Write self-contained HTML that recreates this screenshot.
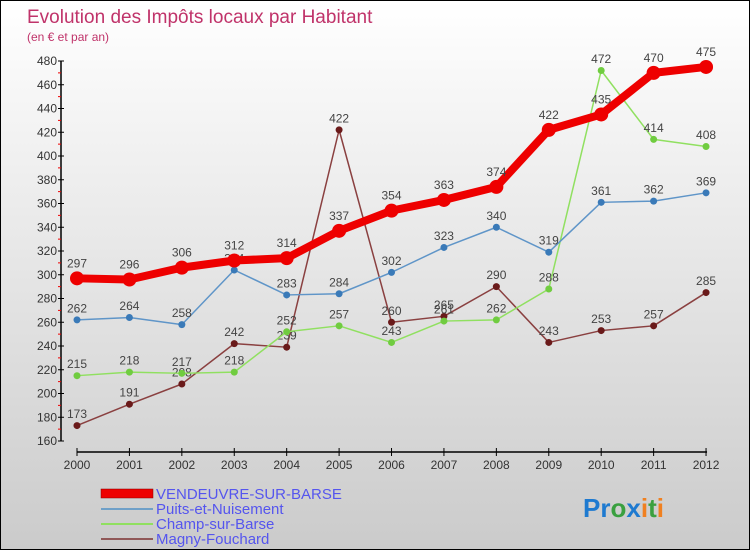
<!DOCTYPE html>
<html><head><meta charset="utf-8"><style>
html,body{margin:0;padding:0}
body{width:750px;height:550px;overflow:hidden;font-family:"Liberation Sans",sans-serif}
#wrap{position:relative;width:748px;height:548px;border:1px solid #000;background:linear-gradient(#fff,#cbcbcb)}
svg{position:absolute;left:0;top:0}
</style></head><body>
<div id="wrap">
<svg id="chart" width="750" height="550">
<text x="26" y="22" font-size="19" fill="#c0336a">Evolution des Impôts locaux par Habitant</text>
<text x="26" y="40" font-size="12" fill="#c0336a">(en € et par an)</text>
<g id="axes"></g><g id="series"></g>
<g>
<rect x="100" y="488" width="52" height="9" fill="#e00" stroke="#800" stroke-width="0.5"/>
<text x="155" y="498" font-size="15" fill="#5555ee">VENDEUVRE-SUR-BARSE</text>
<line x1="100" y1="508" x2="152" y2="508" stroke="#6fa0c8" stroke-width="2"/>
<text x="155" y="513" font-size="15" fill="#5555ee">Puits-et-Nuisement</text>
<line x1="100" y1="523" x2="152" y2="523" stroke="#90e060" stroke-width="2"/>
<text x="155" y="528" font-size="15" fill="#5555ee">Champ-sur-Barse</text>
<line x1="100" y1="538" x2="152" y2="538" stroke="#905858" stroke-width="2"/>
<text x="155" y="543" font-size="15" fill="#5555ee">Magny-Fouchard</text>
</g>
<text x="582" y="516" font-size="26" font-weight="bold"><tspan fill="#1e7ad0">Pr</tspan><tspan fill="#3aa040">o</tspan><tspan fill="#1e7ad0">x</tspan><tspan fill="#f08020">i</tspan><tspan fill="#3aa040">t</tspan><tspan fill="#f08020">i</tspan></text>
</svg></div>
<script>
const years=[2000,2001,2002,2003,2004,2005,2006,2007,2008,2009,2010,2011,2012];
const yTicks=[160,180,200,220,240,260,280,300,320,340,360,380,400,420,440,460,480];
const vendeuvre=[297,296,306,312,314,337,354,363,374,422,435,470,475];
const puits=[262,264,258,304,283,284,302,323,340,319,361,362,369];
const champ=[215,218,217,218,252,257,243,261,262,288,472,414,408];
const magny=[173,191,208,242,239,422,260,265,290,243,253,257,285];
const NS="http://www.w3.org/2000/svg";
function xS(i){return 76+i*52.42;}
function yS(v){return 440-(v-160)*1.1875;}
function mk(tag,attrs,parent){const e=document.createElementNS(NS,tag);for(const k in attrs)e.setAttribute(k,attrs[k]);parent.appendChild(e);return e;}
const ax=document.getElementById('axes');
let l=mk('line',{x1:60,y1:60,x2:60,y2:440,stroke:'#000','stroke-width':1.5},ax);


yTicks.forEach((v,i)=>{
 const y=yS(v);
 const t=mk('line',{x1:57,y1:y,x2:63,y2:y,stroke:'#000'},ax);
 
 
 if(i<yTicks.length-1){const m=mk('line',{x1:57,y1:y-11.875,x2:60,y2:y-11.875,stroke:'#e00'},ax);
 
 }
 const tx=mk('text',{x:56,y:y+4,'font-size':12,'text-anchor':'end',fill:'#333'},ax);tx.textContent=v;
 
 
});
l=mk('line',{x1:xS(0),y1:451,x2:xS(12)+1,y2:451,stroke:'#000','stroke-width':1.5},ax);


years.forEach((yr,i)=>{
 const x=xS(i);
 const t=mk('line',{x1:x,y1:447,x2:x,y2:455,stroke:'#000'},ax);
 
 
 const tx=mk('text',{x:x,y:468,'font-size':12,'text-anchor':'middle',fill:'#333'},ax);tx.textContent=yr;
 
 
});
const sg=document.getElementById('series');
function draw(vals,color,dot,w,r,name,fs){
 const g=mk('g',{},sg);
 
 
 const pl=mk('polyline',{points:vals.map((v,i)=>xS(i)+','+yS(v)).join(' '),fill:'none',stroke:color,'stroke-width':w,'stroke-linejoin':'round'},g);
 
 
 vals.forEach((v,i)=>{
  const c=mk('circle',{cx:xS(i),cy:yS(v),r:r,fill:dot},g);
  
  
  const t=mk('text',{x:xS(i),y:yS(v)-r-4,'font-size':12,'text-anchor':'middle',fill:'#444'},g);t.textContent=v;
  
  
 });
}
draw(magny,'#8a4040','#6a1a1a',1.5,3.5,'magny');
draw(champ,'#90e060','#70cc40',1.5,3.5,'champ');
draw(puits,'#5f95c8','#3a7ab8',1.5,3.5,'puits');
draw(vendeuvre,'#ee0000','#ee0000',8,7,'vendeuvre');
</script>
</body></html>
